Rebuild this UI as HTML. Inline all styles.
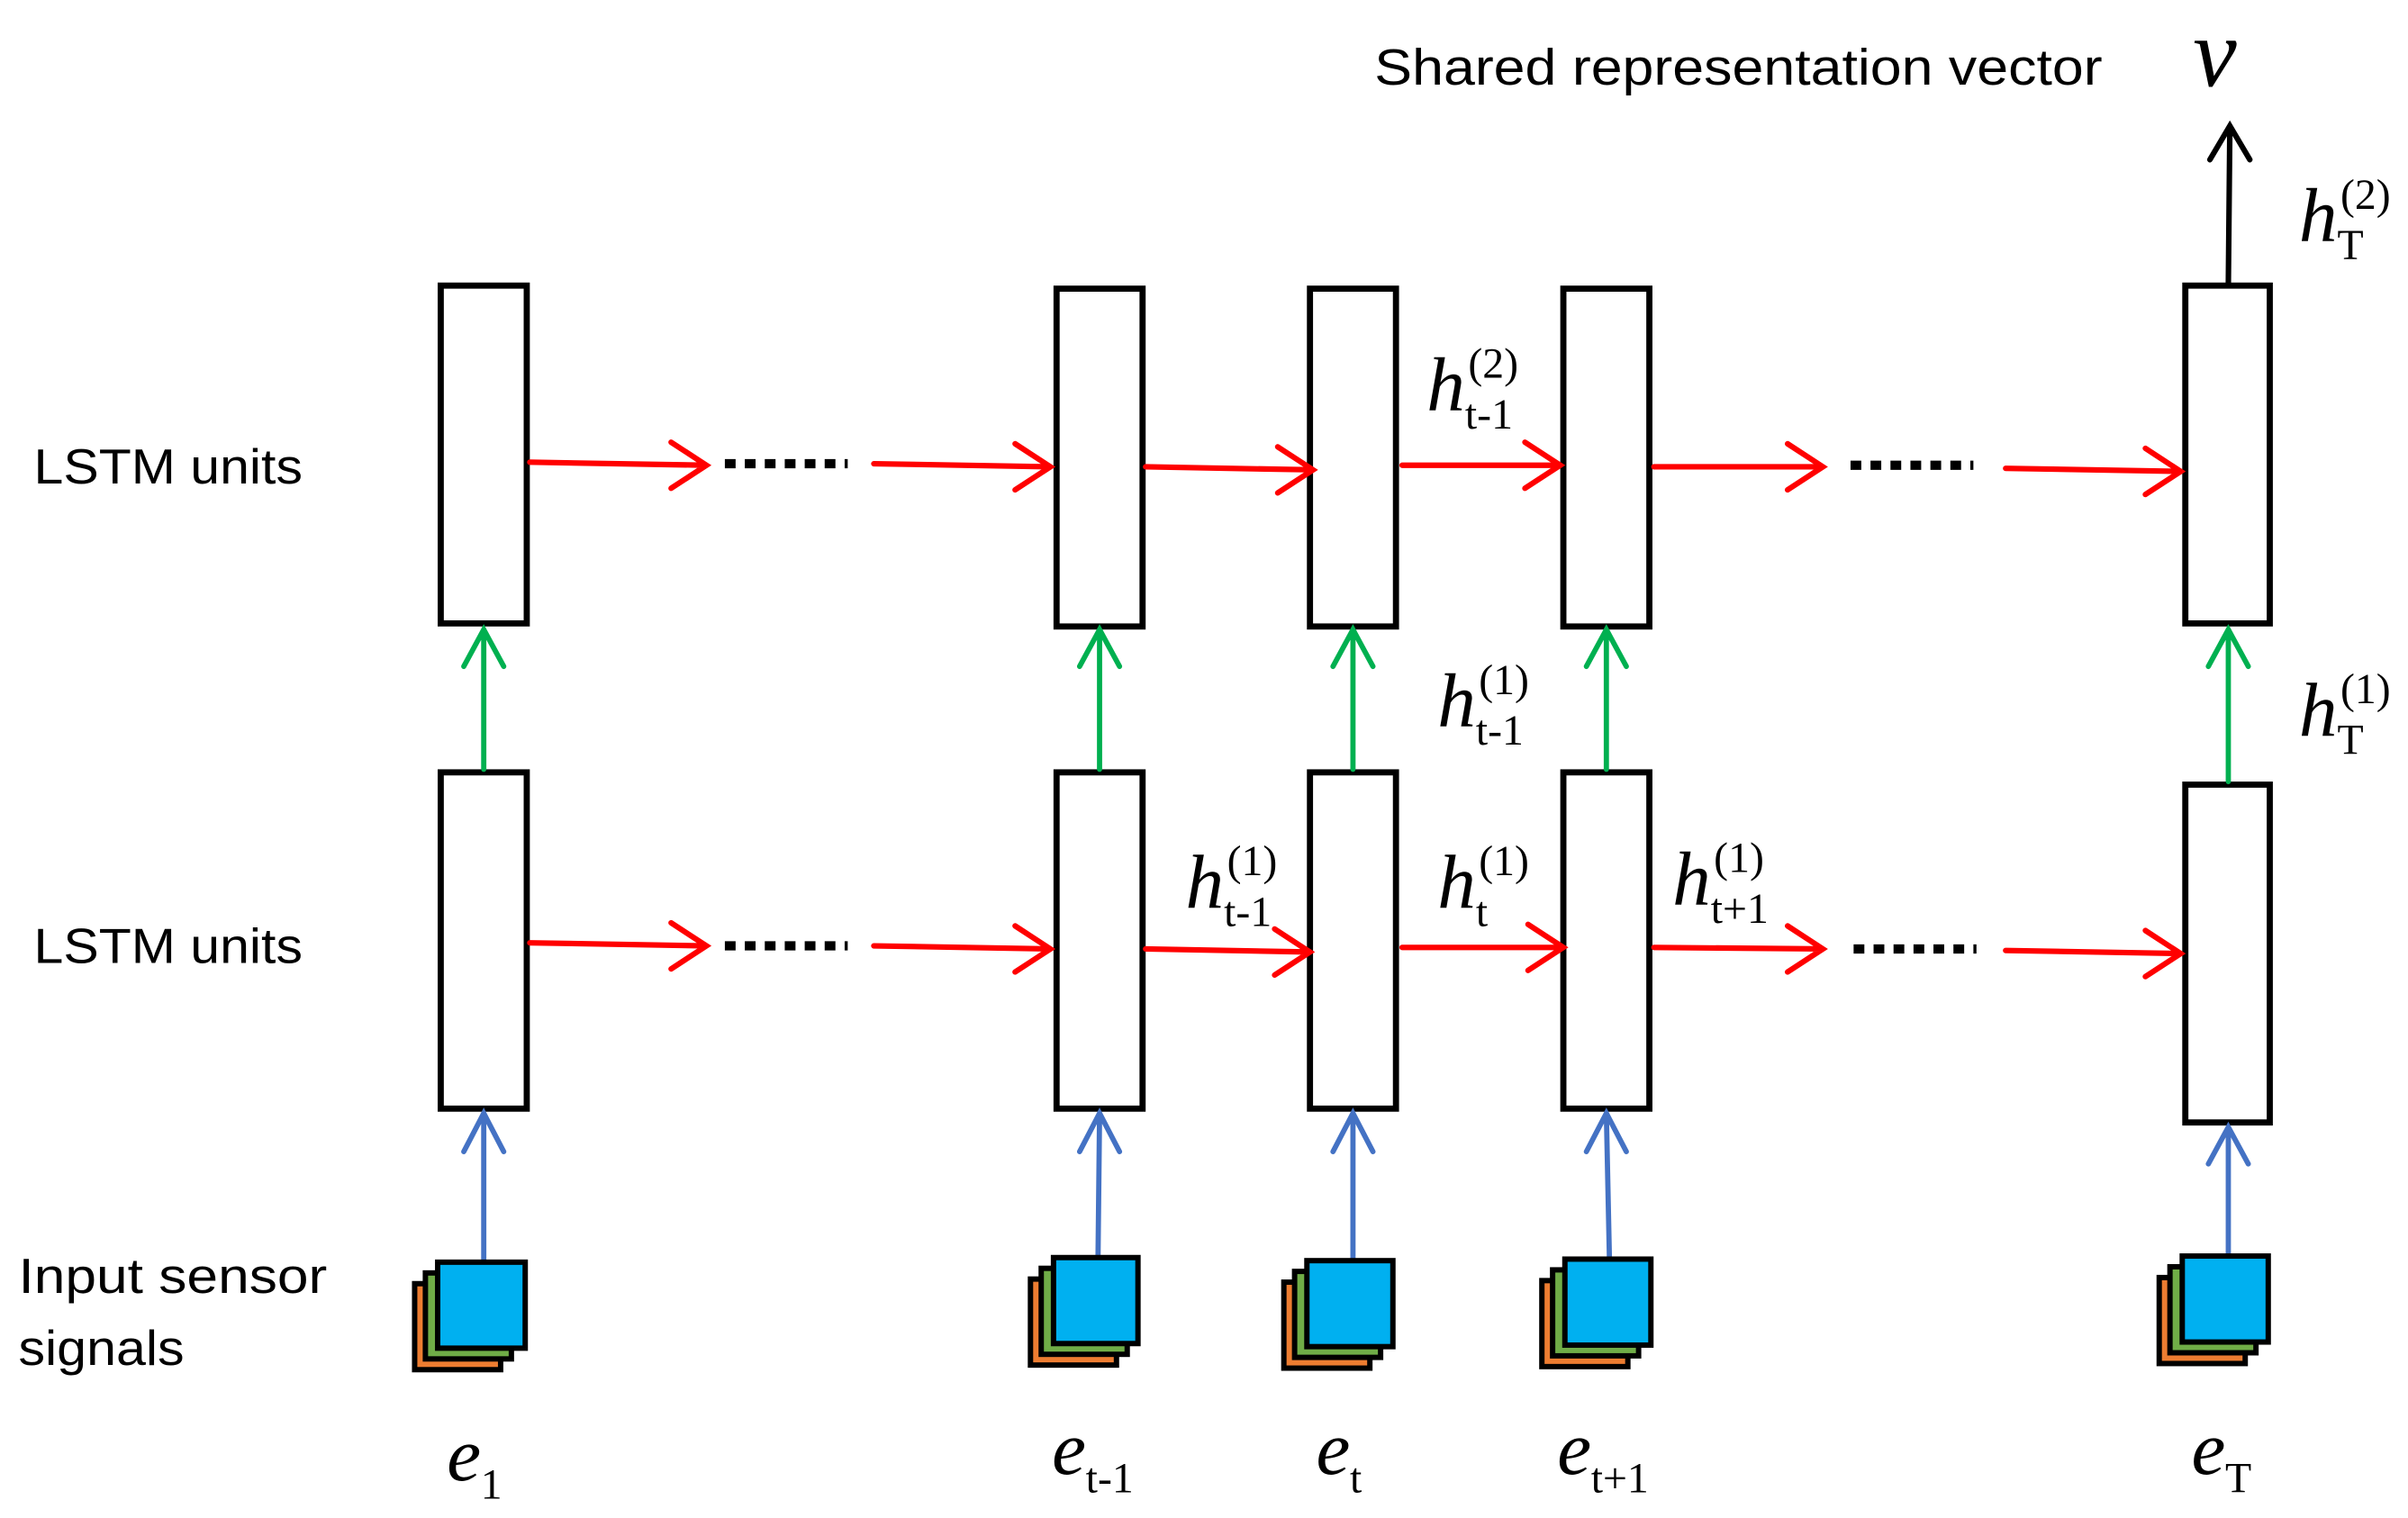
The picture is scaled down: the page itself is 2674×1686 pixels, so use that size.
<!DOCTYPE html>
<html><head><meta charset="utf-8"><style>
html,body{margin:0;padding:0;background:#fff;}
svg{display:block;}
</style></head><body>
<svg width="2674" height="1686" viewBox="0 0 1568 988.6" preserveAspectRatio="none" xmlns="http://www.w3.org/2000/svg">
<defs>
<style>
.lbl{font-family:"Liberation Sans",sans-serif;fill:#000;}
.m{font-family:"Liberation Serif",serif;fill:#000;}
.i{font-style:italic;}
.box{fill:#fff;stroke:#000;stroke-width:4;}
.r{stroke:#ff0000;stroke-width:3.6;fill:none;stroke-linecap:round;}
.g{stroke:#00b050;stroke-width:3.4;fill:none;stroke-linecap:round;}
.b{stroke:#4472c4;stroke-width:3.4;fill:none;stroke-linecap:round;}
.k{stroke:#000;stroke-width:3.6;fill:none;stroke-linecap:round;}
.dot{stroke:#000;stroke-width:6;stroke-dasharray:7 6;fill:none;}
</style>
</defs>

<text class="lbl" x="22" y="315" font-size="32" textLength="175" lengthAdjust="spacingAndGlyphs">LSTM units</text>
<text class="lbl" x="22" y="627" font-size="32" textLength="175" lengthAdjust="spacingAndGlyphs">LSTM units</text>
<text class="lbl" x="12" y="842" font-size="32" textLength="201" lengthAdjust="spacingAndGlyphs">Input sensor</text>
<text class="lbl" x="12" y="889" font-size="32" textLength="108" lengthAdjust="spacingAndGlyphs">signals</text>
<text class="lbl" x="895" y="55" font-size="33" textLength="474" lengthAdjust="spacingAndGlyphs">Shared representation vector</text>
<text class="m i" x="1428" y="56" font-size="64">v</text>

<rect class="box" x="287" y="186" width="56" height="220"/>
<rect class="box" x="688" y="188" width="56" height="220"/>
<rect class="box" x="853" y="188" width="56" height="220"/>
<rect class="box" x="1018" y="188" width="56" height="220"/>
<rect class="box" x="1423" y="186" width="55" height="220"/>
<rect class="box" x="287" y="503" width="56" height="219"/>
<rect class="box" x="688" y="503" width="56" height="219"/>
<rect class="box" x="853" y="503" width="56" height="219"/>
<rect class="box" x="1018" y="503" width="56" height="219"/>
<rect class="box" x="1423" y="511" width="55" height="220"/>

<g class="r">
<path d="M345 301 L460 303 M437 288 L460 303 L437 318"/>
<path d="M569 302 L684 304 M661 289 L684 304 L661 319"/>
<path d="M746 304 L855 306 M832 291 L855 306 L832 321"/>
<path d="M913 303 L1016 303 M993 288 L1016 303 L993 318"/>
<path d="M1077 304 L1187 304 M1164 289 L1187 304 L1164 319"/>
<path d="M1306 305 L1420 307 M1397 292 L1420 307 L1397 322"/>
</g>
<path class="dot" d="M472 302 L552 302"/>
<path class="dot" d="M1205 303 L1285 303"/>

<g class="r">
<path d="M345 614 L460 616 M437 601 L460 616 L437 631"/>
<path d="M569 616 L684 618 M661 603 L684 618 L661 633"/>
<path d="M746 618 L853 620 M830 605 L853 620 L830 635"/>
<path d="M913 617 L1018 617 M995 602 L1018 617 L995 632"/>
<path d="M1077 617 L1187 618 M1164 603 L1187 618 L1164 633"/>
<path d="M1306 619 L1420 621 M1397 606 L1420 621 L1397 636"/>
</g>
<path class="dot" d="M472 616 L552 616"/>
<path class="dot" d="M1207 618 L1287 618"/>

<g class="g">
<path d="M315 501 L315 410 M302 434 L315 410 L328 434"/>
<path d="M716 501 L716 410 M703 434 L716 410 L729 434"/>
<path d="M881 501 L881 410 M868 434 L881 410 L894 434"/>
<path d="M1046 501 L1046 410 M1033 434 L1046 410 L1059 434"/>
<path d="M1451 509 L1451 410 M1438 434 L1451 410 L1464 434"/>
</g>

<g class="b">
<path d="M315 822 L315 725 M302 750 L315 725 L328 750"/>
<path d="M715 818 L716 725 M703 750 L716 725 L729 750"/>
<path d="M881 820 L881 725 M868 750 L881 725 L894 750"/>
<path d="M1048 820 L1046 725 M1033 750 L1046 725 L1059 750"/>
<path d="M1451 818 L1451 734 M1438 758 L1451 734 L1464 758"/>
</g>

<path class="k" d="M1451 186 L1452 82 M1439 104 L1452 82 L1465 104"/>

<g stroke="#000" stroke-width="3.5">
<g transform="translate(285,822)">
<rect x="-15" y="14" width="56" height="56" fill="#ed7d31"/>
<rect x="-8" y="7" width="56" height="56" fill="#70ad47"/>
<rect x="0" y="0" width="57" height="56" fill="#00b0f0"/>
</g>
<g transform="translate(686,819)">
<rect x="-15" y="14" width="56" height="56" fill="#ed7d31"/>
<rect x="-8" y="7" width="56" height="56" fill="#70ad47"/>
<rect x="0" y="0" width="55" height="56" fill="#00b0f0"/>
</g>
<g transform="translate(851,821)">
<rect x="-15" y="14" width="56" height="56" fill="#ed7d31"/>
<rect x="-8" y="7" width="56" height="56" fill="#70ad47"/>
<rect x="0" y="0" width="56" height="56" fill="#00b0f0"/>
</g>
<g transform="translate(1019,820)">
<rect x="-15" y="14" width="56" height="56" fill="#ed7d31"/>
<rect x="-8" y="7" width="56" height="56" fill="#70ad47"/>
<rect x="0" y="0" width="56" height="56" fill="#00b0f0"/>
</g>
<g transform="translate(1421,818)">
<rect x="-15" y="14" width="56" height="56" fill="#ed7d31"/>
<rect x="-8" y="7" width="56" height="56" fill="#70ad47"/>
<rect x="0" y="0" width="56" height="56" fill="#00b0f0"/>
</g>
</g>

<g class="m">
<text x="291" y="964" font-size="50" class="i">e</text><text x="313" y="976" font-size="28">1</text>
<text x="685" y="960" font-size="50" class="i">e</text><text x="707" y="972" font-size="28">t-1</text>
<text x="857" y="960" font-size="50" class="i">e</text><text x="879" y="972" font-size="28">t</text>
<text x="1014" y="960" font-size="50" class="i">e</text><text x="1036" y="972" font-size="28">t+1</text>
<text x="1427" y="960" font-size="50" class="i">e</text><text x="1449" y="972" font-size="28">T</text>
</g>

<g class="m">
<text x="929" y="267" font-size="50" class="i">h</text><text x="956" y="246" font-size="28">(2)</text><text x="954" y="279" font-size="28">t-1</text>
<text x="936" y="473" font-size="50" class="i">h</text><text x="963" y="452" font-size="28">(1)</text><text x="961" y="485" font-size="28">t-1</text>
<text x="1497" y="157" font-size="50" class="i">h</text><text x="1524" y="136" font-size="28">(2)</text><text x="1522" y="169" font-size="28">T</text>
<text x="1497" y="479" font-size="50" class="i">h</text><text x="1524" y="458" font-size="28">(1)</text><text x="1522" y="491" font-size="28">T</text>
<text x="772" y="591" font-size="50" class="i">h</text><text x="799" y="570" font-size="28">(1)</text><text x="797" y="603" font-size="28">t-1</text>
<text x="936" y="591" font-size="50" class="i">h</text><text x="963" y="570" font-size="28">(1)</text><text x="961" y="603" font-size="28">t</text>
<text x="1089" y="589" font-size="50" class="i">h</text><text x="1116" y="568" font-size="28">(1)</text><text x="1114" y="601" font-size="28">t+1</text>
</g>
</svg>
</body></html>
